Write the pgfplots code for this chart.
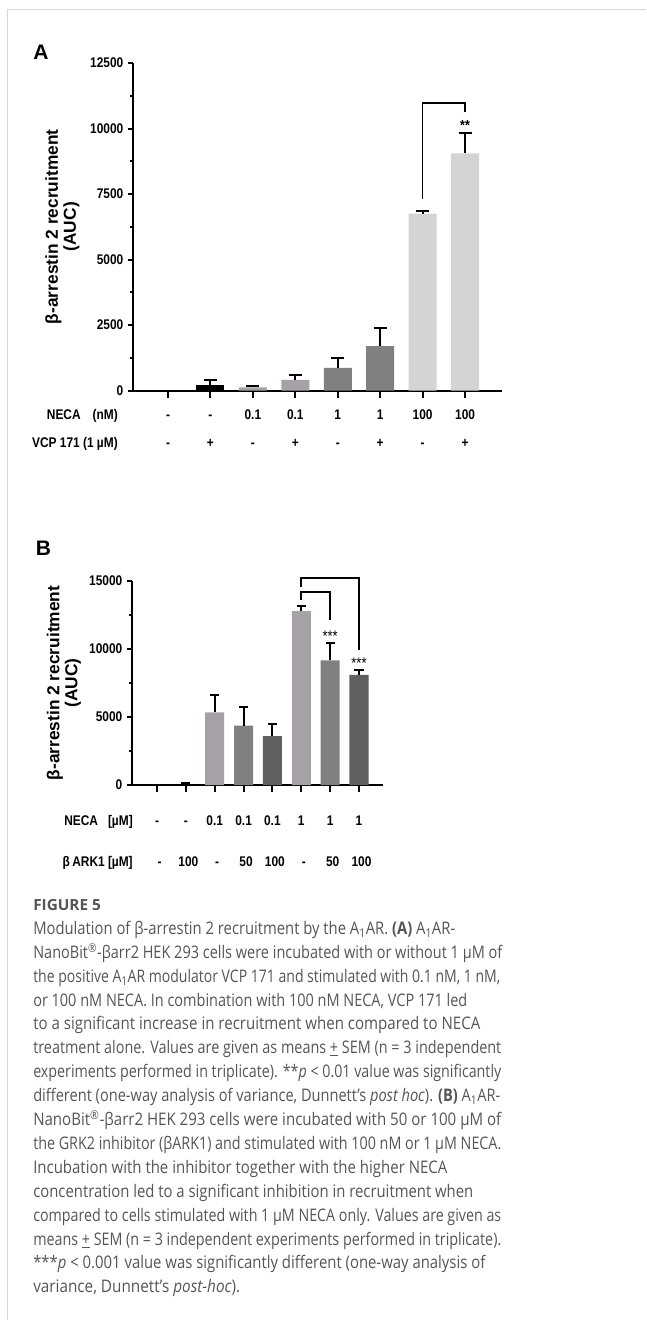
\documentclass[border=0pt]{standalone}
\usepackage{fontspec}
\usepackage{graphicx}
\usepackage{pgfplots}
\pgfplotsset{compat=1.18}
\setmainfont{Liberation Sans}
\newfontfamily\chartfont[FakeStretch=0.85]{Liberation Sans}
\newfontfamily\capfont{Open Sans}
\definecolor{capgray}{RGB}{85,85,85}
\definecolor{framegray}{RGB}{214,214,214}
\definecolor{ltg}{RGB}{212,212,212}
\definecolor{mdg}{RGB}{128,128,128}
\definecolor{pg}{RGB}{165,161,166}
\definecolor{dkg}{RGB}{96,96,96}
\newcommand\tf{\chartfont\bfseries\fontsize{10.5}{12}\selectfont}
\newcommand\cf{\capfont\fontsize{13}{17.9}\selectfont}
\newcommand\fl[2]{\resizebox{\dimexpr #1pt*3/4\relax}{\height}{#2}}
\pgfplotsset{
  panel/.style={
    scale only axis, clip=false,
    axis lines=left, axis line style={-, line width=1.5pt, black},
    ybar, bar shift=0pt, bar width=0.66,
    ymin=0, tick align=outside,
    xtick={0,...,7}, xticklabels={},
    tick style={line width=1.5pt, black},
    major tick length=3.75pt, minor tick length=2.25pt,
    xtick style={/pgfplots/major tick length=5.25pt},
    minor y tick num=1,
    scaled y ticks=false,
    yticklabel style={font=\tf},
    /pgf/number format/1000 sep={},
    /pgf/number format/assume math mode=true,
  },
  errA/.style={error bars/y dir=plus, error bars/y explicit,
    error bars/error bar style={line width=1.5pt, black},
    error bars/error mark options={rotate=90, mark size=4.9pt, line width=1.5pt, black}},
  errB/.style={error bars/y dir=plus, error bars/y explicit,
    error bars/error bar style={line width=1.5pt, black},
    error bars/error mark options={rotate=90, mark size=3.4pt, line width=1.5pt, black}},
}
\begin{document}
\begin{tikzpicture}
\begin{scope}[x=0.75pt,y=-0.75pt]
\path[use as bounding box] (0,0) rectangle (646,1320);
\draw[framegray, line width=0.9pt] (7.5,1320) -- (7.5,9.5) -- (646,9.5);
% Panel letters
\node[anchor=base west, inner sep=0, font=\bfseries\fontsize{15.75}{18}\selectfont] at (33,60) {A};
\node[anchor=base west, inner sep=0, font=\bfseries\fontsize{15.75}{18}\selectfont] at (35.5,555) {B};
% y labels
\node[rotate=90, align=center, font=\bfseries\fontsize{13}{13.5}\selectfont] at (62.5,226.75) {β-arrestin 2 recruitment\\(AUC)};
\node[rotate=90, align=center, font=\bfseries\fontsize{13}{13.5}\selectfont] at (64,683) {β-arrestin 2 recruitment\\(AUC)};
% Row labels A
\node[anchor=base east, inner sep=0, font=\tf] at (118,419) {NECA\hspace{9pt}(nM)};
\node[anchor=base east, inner sep=0, font=\tf] at (118,447.7) {VCP 171 (1 µM)};
\foreach \x/\a/\b in {168/-/-, 210.4/-/+, 252.9/0.1/-, 295.3/0.1/+, 337.8/1/-, 380.2/1/+, 422.6/100/-, 465.1/100/+}{
  \node[anchor=base, inner sep=0, font=\tf] at (\x,419) {\a};
  \node[anchor=base, inner sep=0, font=\tf] at (\x,447.7) {\b};
}
% Row labels B
\node[anchor=base east, inner sep=0, font=\tf] at (133,825) {NECA\hspace{7.5pt}[µM]};
\node[anchor=base east, inner sep=0, font=\tf] at (133,866) {β\,ARK1 [µM]};
\foreach \x/\a/\b in {157/-/-, 185.9/-/100, 214.7/0.1/-, 243.6/0.1/50, 272.4/0.1/100, 301.3/1/-, 330.2/1/50, 359/1/100}{
  \node[anchor=base, inner sep=0, font=\tf] at (\x,825) {\a};
  \node[anchor=base, inner sep=0, font=\tf] at (\x+2.5,866) {\b};
}
% Caption
\node[anchor=base west, inner sep=0, text=capgray, font=\capfont\bfseries\fontsize{11.5}{13}\selectfont] at (33,910.7) {FIGURE 5};
\begin{scope}[every node/.style={anchor=base west, inner sep=0, text=capgray, font=\cf}]
\node at (33,934.3) {\fl{422}{Modulation of β-arrestin 2 recruitment by the A\textsubscript{1}AR. \textbf{(A)} A\textsubscript{1}AR-}};
\node at (33,958.2) {\fl{469}{NanoBit\textsuperscript{®}-βarr2 HEK 293 cells were incubated with or without 1 µM of}};
\node at (33,982.1) {\fl{467}{the positive A\textsubscript{1}AR modulator VCP 171 and stimulated with 0.1 nM, 1 nM,}};
\node at (33,1006.0) {\fl{434}{or 100 nM NECA. In combination with 100 nM NECA, VCP 171 led}};
\node at (33,1029.9) {\fl{447}{to a significant increase in recruitment when compared to NECA}};
\node at (33,1053.8) {\fl{468}{treatment alone. Values are given as means \underline{+} SEM (n = 3 independent}};
\node at (33,1077.7) {\fl{468}{experiments performed in triplicate). **\textit{p} < 0.01 value was significantly}};
\node at (33,1101.6) {\fl{467}{different (one-way analysis of variance, Dunnett’s \textit{post hoc}). \textbf{(B)} A\textsubscript{1}AR-}};
\node at (33,1125.5) {\fl{468}{NanoBit\textsuperscript{®}-βarr2 HEK 293 cells were incubated with 50 or 100 µM of}};
\node at (33,1149.4) {\fl{468}{the GRK2 inhibitor (βARK1) and stimulated with 100 nM or 1 µM NECA.}};
\node at (33,1173.3) {\fl{414}{Incubation with the inhibitor together with the higher NECA}};
\node at (33,1197.2) {\fl{440}{concentration led to a significant inhibition in recruitment when}};
\node at (33,1221.1) {\fl{468}{compared to cells stimulated with 1 µM NECA only. Values are given as}};
\node at (33,1245.0) {\fl{468}{means \underline{+} SEM (n = 3 independent experiments performed in triplicate).}};
\node at (33,1268.9) {\fl{452}{***\textit{p} < 0.001 value was significantly different (one-way analysis of}};
\node at (33,1292.8) {\fl{207}{variance, Dunnett’s \textit{post-hoc}).}};
\end{scope}
\end{scope}

% Panel A
\begin{axis}[panel, at={(133*0.75pt,-390.5*0.75pt)}, anchor=south west,
  width=276.75pt, height=245.6pt, xmin=-0.8247, xmax=7.870, ymax=12500,
  ytick={0,2500,5000,7500,10000,12500}]
\addplot[fill=black, draw=none] coordinates {(0,0)};
\addplot[fill=black, draw=none, errA] coordinates {(1,198) +- (0,191)};
\addplot[fill=pg, draw=none, errA] coordinates {(2,122) +- (0,61) (3,401) +- (0,191)};
\addplot[fill=mdg, draw=none, errA] coordinates {(4,859) +- (0,370) (5,1698) +- (0,687)};
\addplot[fill=ltg, draw=none, errA] coordinates {(6,6748) +- (0,115) (7,9053) +- (0,775)};
\draw[line width=1.2pt, black] (axis cs:6,7309) -- (axis cs:6,10985) -- (axis cs:7,10985) -- (axis cs:7,10641);
\node[anchor=north, inner sep=0, font=\chartfont\bfseries\fontsize{11}{12}\selectfont] at (axis cs:7,10324) {**};
\end{axis}

% Panel B
\begin{axis}[panel, at={(132*0.75pt,-785*0.75pt)}, anchor=south west,
  width=188.25pt, height=153pt, xmin=-0.866, xmax=7.831, ymax=15000,
  ytick={0,5000,10000,15000}]
\addplot[fill=black, draw=none] coordinates {(0,0)};
\addplot[fill=black, draw=none, errB] coordinates {(1,30) +- (0,100)};
\addplot[fill=pg, draw=none, errB] coordinates {(2,5343) +- (0,1247) (5,12790) +- (0,370)};
\addplot[fill=mdg, draw=none, errB] coordinates {(3,4363) +- (0,1397) (6,9170) +- (0,1250)};
\addplot[fill=dkg, draw=none, errB] coordinates {(4,3600) +- (0,880) (7,8090) +- (0,340)};
\draw[line width=1.2pt, black] (axis cs:5,13600) -- (axis cs:5,14210) -- (axis cs:6,14210) -- (axis cs:6,12100);
\draw[line width=1.2pt, black] (axis cs:5,14530) -- (axis cs:5,15240) -- (axis cs:7,15240) -- (axis cs:7,9960);
\node[anchor=north, inner sep=0, font=\chartfont\fontsize{11.5}{12}\selectfont] at (axis cs:6,11350) {***};
\node[anchor=north, inner sep=0, font=\chartfont\fontsize{11.5}{12}\selectfont] at (axis cs:7,9390) {***};
\end{axis}
\end{tikzpicture}
\end{document}
